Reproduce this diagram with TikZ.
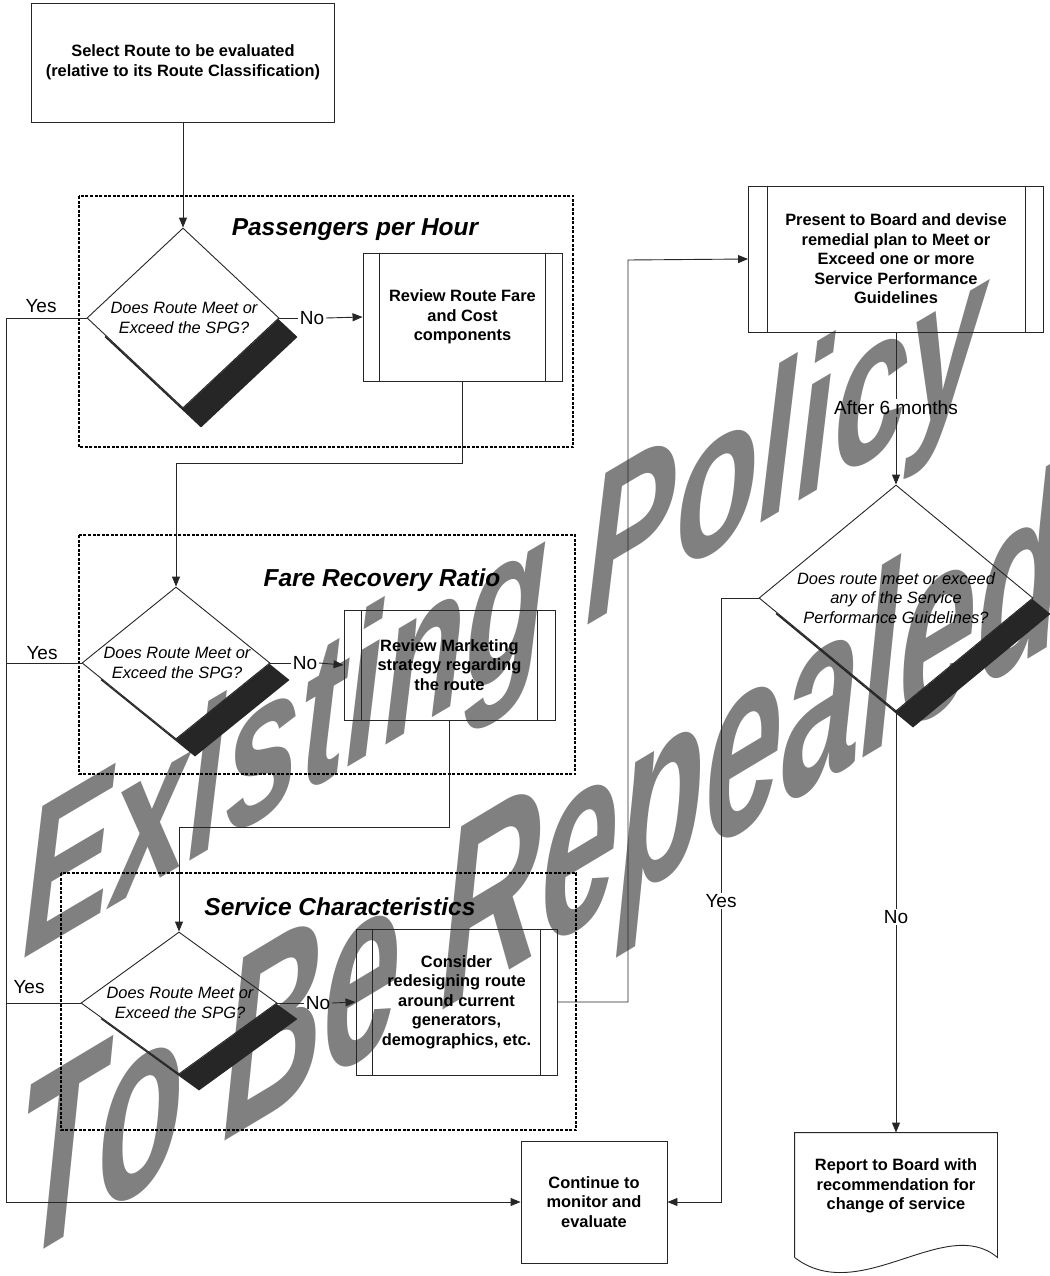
\documentclass[tikz,border=0pt]{standalone}
\usepackage{fontspec}
\setmainfont{Liberation Sans}
\usetikzlibrary{shapes.geometric,arrows.meta,calc}
\colorlet{shadowcol}{black!85}
\colorlet{wmcol}{black!50}
\newcommand\diashadow[3]{%
  \begin{scope}[even odd rule]
    \clip (-5,-5) rectangle (1060,1290)
      (#1.north) -- (#1.east) -- (#1.south) -- (#1.west) -- cycle;
    \fill[shadowcol] ($(#1.north)+(#2,#3)$) -- ($(#1.east)+(#2,#3)$)
      -- ($(#1.south)+(#2,#3)$) -- ($(#1.west)+(#2,#3)$) -- cycle;
  \end{scope}}
\newcommand\proclines[2]{%
  \draw[conn] ($(#1.north west)+(#2,0)$) -- ($(#1.south west)+(#2,0)$);
  \draw[conn] ($(#1.north east)+(-#2,0)$) -- ($(#1.south east)+(-#2,0)$);}
\begin{document}
\begin{tikzpicture}[x=1pt,y=-1pt,
  box/.style={draw=black!85, line width=0.9pt, align=center,
    font=\bfseries\fontsize{16.4}{19.5}\selectfont, inner sep=0pt},
  dec/.style={shape=diamond, draw=black!85, line width=0.9pt, inner sep=0pt},
  dectext/.style={align=center, font=\itshape\fontsize{16.4}{19.5}\selectfont, inner sep=0pt},
  group/.style={draw=black, line width=1.4pt, dash pattern=on 3pt off 1.5pt},
  title/.style={font=\bfseries\itshape\fontsize{24.5}{28}\selectfont, inner sep=0pt},
  lab/.style={font=\fontsize{19}{22}\selectfont, inner sep=1.5pt},
  conn/.style={draw=black!85, line width=0.9pt},
  arr/.style={conn, -{Triangle[length=10pt,width=8pt]}},
  wm/.style={text=wmcol, inner sep=0pt, anchor=base west},
]
\useasboundingbox[fill=white] (0,0) rectangle (1049,1276);

% watermark
\node[wm, font=\bfseries\itshape\fontsize{205}{205}\selectfont, cm={0.66,0.39,0,1,(0,0)}] (wm1) at (22,960) {Existing Policy};
\node[wm, font=\bfseries\itshape\fontsize{250}{250}\selectfont, cm={0.56,0.336,0,1,(0,0)}] (wm2) at (18,1265) {To Be Repealed};

% groups
\draw[group] (79,196) rectangle (573,447);
\draw[group] (79,535) rectangle (575,774);
\draw[group] (61,873) rectangle (576,1130);
\node[title] (t1) at (355,230) {Passengers per Hour};
\node[title] (t2) at (382,580) {Fare Recovery Ratio};
\node[title] (t3) at (340,907) {Service Characteristics};

% boxes
\node[box, minimum width=303pt, minimum height=119pt] (sel) at (183,62.5)
  {Select Route to be evaluated\\(relative to its Route Classification)};
\node[box, minimum width=199pt, minimum height=128pt] (rr) at (462.5,317)
  {Review Route Fare\\and Cost\\components};
\node[box, minimum width=211pt, minimum height=110pt] (rm) at (449.5,665)
  {Review Marketing\\strategy regarding\\the route};
\node[box, minimum width=201pt, minimum height=146pt] (cs) at (456.5,1002)
  {Consider\\redesigning route\\around current\\generators,\\demographics, etc.};
\node[box, minimum width=295pt, minimum height=146pt] (pr) at (896,259)
  {Present to Board and devise\\remedial plan to Meet or\\Exceed one or more\\Service Performance\\Guidelines};
\node[box, minimum width=146pt, minimum height=122pt] (cont) at (594,1202)
  {Continue to\\monitor and\\evaluate};
\node[box, draw=none, minimum width=202pt, minimum height=106pt] (rep) at (896,1186)
  {Report to Board with\\recommendation for\\change of service};
\draw[conn] ($(rep.south west)+(0,18)$) -- (rep.north west) -- (rep.north east)
  -- ($(rep.south east)+(0,18)$)
  .. controls ($(rep.south east)+(-52,-26)$) and ($(rep.south west)+(65,68)$)
  .. ($(rep.south west)+(0,18)$);
\proclines{rr}{17}
\proclines{rm}{18}
\proclines{cs}{17}
\proclines{pr}{19}

% decisions
\node[dec, minimum width=192pt, minimum height=180pt] (d1) at (183,318) {};
\node[dec, minimum width=188pt, minimum height=152pt] (d2) at (176,663) {};
\node[dec, minimum width=196pt, minimum height=142pt] (d3) at (179,1003) {};
\node[dec, minimum width=274pt, minimum height=226pt] (d4) at (896,598) {};
\diashadow{d1}{18}{19}
\diashadow{d2}{19}{17}
\diashadow{d3}{20}{16}
\diashadow{d4}{17}{16}
\node[dectext] (d1t) at (184,318) {Does Route Meet or\\Exceed the SPG?};
\node[dectext] (d2t) at (177,663) {Does Route Meet or\\Exceed the SPG?};
\node[dectext] (d3t) at (180,1003) {Does Route Meet or\\Exceed the SPG?};
\node[dectext] (d4t) at (896,598) {Does route meet or exceed\\any of the Service\\Performance Guidelines?};

% labels
\node[lab] (yes1) at (41,306) {Yes};
\node[lab] (yes2) at (42,653) {Yes};
\node[lab] (yes3) at (29,987) {Yes};
\node[lab] (no1) at (312,318) {No};
\node[lab] (no2) at (305,663) {No};
\node[lab] (no3) at (318,1003) {No};
\node[lab] (yes4) at (721,901) {Yes};
\node[lab] (no4) at (896,917) {No};
\node[lab] (after) at (896,408) {After 6 months};

% connectors
\coordinate (k1) at (176,463);
\coordinate (k2) at (179,827);
\coordinate (k3) at (628,260);
\coordinate (tr) at (6,318);
\draw[arr] (sel.south) -- (d1.north);
\draw[conn] (d1.east) -- (no1.west);
\draw[arr] (no1.east) -- (rr.west);
\draw[conn] (d2.east) -- (no2.west);
\draw[arr] (no2.east) -- (rm.west);
\draw[conn] (d3.east) -- (no3.west);
\draw[arr] (no3.east) -- (cs.west);
\draw[arr] (rr.south) |- (k1) -- (d2.north);
\draw[arr] (rm.south) |- (k2) -- (d3.north);
\draw[arr] (cs.east) -| (k3) -- (pr.west);
\draw[conn] (d1.west) -- (tr);
\draw[arr] (tr) |- (cont.west);
\draw[conn] (d2.west) -- (d2.west -| tr);
\draw[conn] (d3.west) -- (d3.west -| tr);
\draw[conn] (pr.south) -- (after.north);
\draw[arr] (after.south) -- (d4.north);
\draw[conn] (d4.west) -| (yes4.north);
\draw[arr] (yes4.south) |- (cont.east);
\draw[conn] (d4.south) -- (no4.north);
\draw[arr] (no4.south) -- (rep.north);
\end{tikzpicture}
\end{document}
